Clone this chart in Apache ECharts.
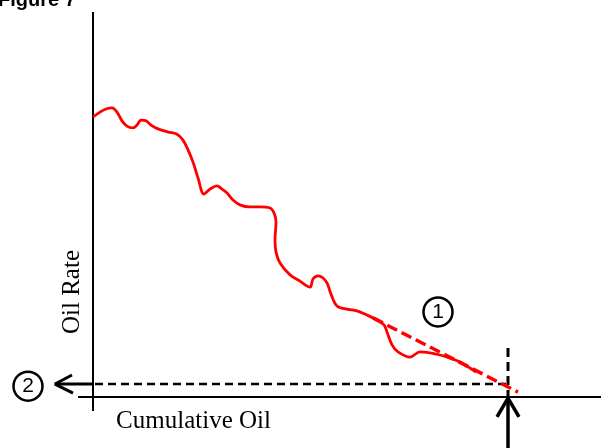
<!DOCTYPE html>
<html>
<head>
<meta charset="utf-8">
<script src="https://cdn.jsdelivr.net/npm/echarts@6.0.0/dist/echarts.min.js"></script>
<style>
html,body{margin:0;padding:0;background:#fff;}
#chart{width:615px;height:448px;}
</style>
</head>
<body>
<div id="chart"></div>
<script>
// Cumulative oil (x) vs oil rate (y), arbitrary units
const oilCurve = [
  [0,80],[1.75,81.4],[3.25,82.3],[4.75,82.6],[6,81.4],[7.25,78.9],[8.5,77.4],[10,76.9],
  [11,77.7],[12,79.1],[13.25,78.9],[14.5,77.7],[16.25,76.6],[18.75,75.7],[21,75.1],
  [22.5,73.4],[23.75,70.6],[25,67.1],[26.25,62.6],[27.75,58],[29.25,59.4],[31,60.3],
  [32.25,59.4],[33.5,58.3],[35,56.3],[36.75,54.9],[39.25,54.3],[41.75,54.3],[44.25,54],
  [45.25,52.6],[45.75,50],[45.5,44.9],[45.75,41.4],[46.75,38.3],[49.25,34.9],[51.75,33.1],
  [54.25,31.4],[55,33.7],[56.25,34.6],[57.5,34],[58.5,32.6],[59.5,29.4],[61,26],
  [63.5,25.1],[66,24.6],[68.5,23.4],[71,22],[72.75,20.6],[73.5,18.6],[74.75,14.9],
  [76.25,12.9],[79.25,11.4],[81.75,12.9],[84.25,12.6],[86.75,12],[89.25,11.1],
  [91.75,10],[94.25,8.3],[95.75,7.1]
];
const tangentLine = [[70,22.6],[106.25,1.4]];
const rateCutoff = [[0.5,3.7],[103.75,3.7]];
const cumCutoff = [[103.75,14],[103.75,0]];
const xAxisLine = [[-3.75,0],[127,0]];
const yAxisLine = [[0,-4],[0,110]];
const arrowRateShaft = [[0,3.7],[-9.5,3.7]];
const arrowRateHead = [[-5.25,6.3],[-9.5,3.7],[-5,1.1]];
const arrowCumShaft = [[103.75,-14.6],[103.75,-0.3]];
const arrowCumHead = [[101,-5.7],[103.75,-0.3],[106.5,-5.7]];
const markers = [
  {label:'1', pos:[86.25,24.3]},
  {label:'2', pos:[-16.25,3.1]}
];

function seg(data, color, width, dash, z) {
  return {
    type:'line', data:data, clip:false, showSymbol:false, symbol:'none',
    silent:true, animation:false, z:z||2,
    lineStyle:{color:color, width:width, type:dash||'solid', cap:'butt'}
  };
}

const chart = echarts.init(document.getElementById('chart'), null, {renderer:'canvas'});
const option = {
  backgroundColor:'#ffffff',
  animation:false,
  grid:{left:0, right:14, top:12, bottom:0},
  xAxis:{type:'value', min:-23.25, max:127, show:false},
  yAxis:{type:'value', min:-14.5714, max:110, show:false},
  graphic:[
    {type:'text', left:-2, top:-10, silent:true,
     style:{text:'Figure 7', font:'bold 20px "Liberation Sans", Arial, sans-serif', fill:'#000'}},
    {type:'text', x:72, y:292, rotation:Math.PI/2, silent:true,
     style:{text:'Oil Rate', font:'25px "Liberation Serif", "Times New Roman", serif', fill:'#000',
            align:'center', verticalAlign:'middle'}},
    {type:'text', x:193.5, y:421, silent:true,
     style:{text:'Cumulative Oil', font:'25px "Liberation Serif", "Times New Roman", serif', fill:'#000',
            align:'center', verticalAlign:'middle'}}
  ],
  series:[
    seg(xAxisLine,'#000',2),
    seg(yAxisLine,'#000',2),
    seg(rateCutoff,'#000',2.5,[8,5]),
    seg(cumCutoff,'#000',3,[9,5]),
    seg(arrowRateShaft,'#000',3),
    seg(arrowRateHead,'#000',3),
    seg(arrowCumShaft,'#000',3.5),
    seg(arrowCumHead,'#000',3.5),
    Object.assign(seg(oilCurve,'#ff0000',2.8,'solid',4),{smooth:0.35}),
    seg(tangentLine,'#ff0000',3.5,[11,5],5),
    {
      type:'scatter', clip:false, silent:true, z:6,
      data:markers.map(m=>({value:m.pos, name:m.label})),
      symbol:'circle', symbolSize:29,
      itemStyle:{color:'#fff', borderColor:'#000', borderWidth:2.5, opacity:1},
      label:{show:true, position:'inside', formatter:p=>p.name, color:'#000',
             fontSize:21, fontWeight:'normal', textBorderWidth:0,
             fontFamily:'"Liberation Sans", Arial, sans-serif'}
    }
  ]
};
chart.setOption(option);
</script>
</body>
</html>
